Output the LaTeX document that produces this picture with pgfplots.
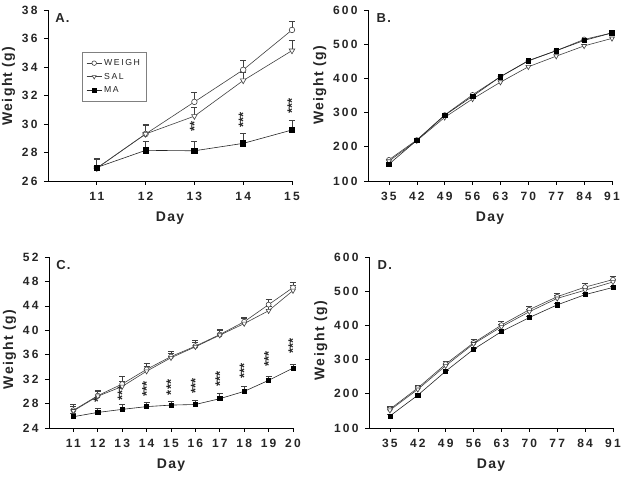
\documentclass[border=0pt]{standalone}
\usepackage{fontspec}
\setmainfont{Liberation Sans}
\usepackage{pgfplots}
\pgfplotsset{compat=1.18}
\definecolor{lc}{gray}{0.25}
\tikzset{
 stars/.style={rotate=90, font=\bfseries\fontsize{13}{13}\selectfont, inner sep=0pt, text=black!85, xshift=1.5pt},
 plab/.style={anchor=north west, font=\bfseries\fontsize{13}{13}\selectfont\addfontfeatures{LetterSpace=10}, inner sep=0pt, text=black!85},
}
\pgfplotsset{
 panel/.style={
  scale only axis, width=244pt, height=171pt,
  axis lines=left, axis line style={-, black, line width=0.6pt},
  tick style={black, line width=0.6pt},
  tick align=outside, major tick length=4pt,
  ticklabel style={font=\bfseries\fontsize{12}{12}\selectfont\addfontfeatures{LetterSpace=18}, text=black!85},
  /pgf/number format/assume math mode=true,
  xticklabel style={yshift=-4pt},
  yticklabel style={xshift=-3pt},
  xlabel={Day}, ylabel={Weight (g)},
  label style={font=\bfseries\fontsize{14}{16}\selectfont\addfontfeatures{LetterSpace=10}, text=black!85},
  xlabel style={yshift=-4pt},
  clip=false,
  error bars/y dir=plus, error bars/y explicit,
  error bars/error bar style={lc, line width=0.6pt},
  error bars/error mark options={lc, line width=0.6pt, rotate=90, mark size=3pt},
 },
 weigh/.style={lc, line width=0.6pt, mark=*, mark options={fill=white, draw=lc, solid}},
 sal/.style={lc, line width=0.6pt, mark=triangle*, mark options={fill=white, draw=lc, rotate=180, solid}},
 ma/.style={black!85, line width=0.6pt, mark=square*, mark options={fill=black, draw=black}},
}
\begin{document}
\begin{tikzpicture}
\path[use as bounding box] (0,0) rectangle (622pt,479pt);
% Panel A
\begin{axis}[panel, at={(48pt,298pt)}, anchor=south west,
  xmin=10, xmax=15, ymin=26, ymax=38,
  xtick={11,12,13,14,15}, ytick={26,28,...,38},
  ylabel style={at={(ticklabel cs:0.555)}},
  legend style={at={(0.139,0.754)}, anchor=north west, draw=gray, line width=0.6pt,
    font=\fontsize{8.7}{9.5}\selectfont\addfontfeatures{LetterSpace=18}, text=black!85,
    legend cell align=left, row sep=2pt, inner xsep=4pt, inner ysep=5pt},
  legend image code/.code={\draw[mark repeat=2,mark phase=2, mark size=2.3pt] plot coordinates {(0cm,0cm) (0.27cm,0cm) (0.54cm,0cm)};},
]
\addplot[weigh, mark size=2.8pt] table[y error index=2] {
11 26.9 0.7
12 29.3 0.7
13 31.55 0.65
14 33.8 0.65
15 36.6 0.6
};
\addplot[sal, mark size=3.2pt] table[y error index=2] {
11 26.9 0.7
12 29.3 0.6
13 30.55 0.6
14 33.05 0.6
15 35.15 0.7
};
\addplot[ma, mark size=2.6pt] table[y error index=2] {
11 26.95 0.6
12 28.15 0.65
13 28.12 0.7
14 28.64 0.7
15 29.58 0.7
};
\legend{WEIGH, SAL, MA}
\node[stars] at (axis cs:13,29.75) {**};
\node[stars] at (axis cs:14,30.15) {***};
\node[stars] at (axis cs:15,31.15) {***};
\node[plab] at (rel axis cs:0.029,0.982) {A.};
\end{axis}
% Panel B
\begin{axis}[panel, at={(368pt,298pt)}, anchor=south west,
  xmin=29.75, xmax=91, ymin=100, ymax=600,
  xtick={35,42,...,91}, ytick={100,200,...,600},
  ylabel style={at={(ticklabel cs:0.56)}},
]
\addplot[weigh, mark size=2.4pt] coordinates {(35,162) (42,220) (49,293) (56,352) (63,405) (70,451) (77,481) (84,514) (91,533)};
\addplot[sal, mark size=2.8pt] coordinates {(35,158) (42,218) (49,286) (56,340) (63,389) (70,434) (77,465) (84,495) (91,517)};
\addplot[ma, mark size=2.3pt] coordinates {(35,149) (42,219) (49,292) (56,348) (63,405) (70,452) (77,481) (84,511) (91,533)};
\node[plab] at (rel axis cs:0.035,0.982) {B.};
\end{axis}
% Panel C
\begin{axis}[panel, at={(49pt,51pt)}, anchor=south west,
  xmin=10, xmax=20, ymin=24, ymax=52,
  xtick={11,...,20}, ytick={24,28,...,52},
  ylabel style={at={(ticklabel cs:0.46)}},
]
\addplot[weigh, mark size=2.5pt] table[y error index=2] {
11 26.9 0.9
12 29.3 0.9
13 31.2 1.2
14 33.6 1.0
15 35.7 0.9
16 37.4 0.9
17 39.3 0.8
18 41.4 0.8
19 44.2 0.8
20 47.0 0.8
};
\addplot[sal, mark size=2.8pt] table[y error index=2] {
11 26.8 0.8
12 29.2 0.8
13 30.8 0.8
14 33.3 0.8
15 35.5 0.8
16 37.3 0.8
17 39.2 0.8
18 41.1 0.8
19 43.2 0.8
20 46.5 0.8
};
\addplot[ma, mark size=2.1pt] table[y error index=2] {
11 25.85 0.5
12 26.55 0.75
13 27.05 0.75
14 27.5 0.7
15 27.75 0.7
16 27.85 0.75
17 28.8 0.8
18 30.0 0.8
19 31.8 0.7
20 33.8 0.7
};
\node[stars] at (axis cs:12,28.3) {*};
\node[stars] at (axis cs:13,29.5) {***};
\node[stars] at (axis cs:14,30.2) {***};
\node[stars] at (axis cs:15,30.4) {***};
\node[stars] at (axis cs:16,30.6) {***};
\node[stars] at (axis cs:17,31.85) {***};
\node[stars] at (axis cs:18,33.1) {***};
\node[stars] at (axis cs:19,35.1) {***};
\node[stars] at (axis cs:20,37.2) {***};
\node[plab] at (rel axis cs:0.029,0.982) {C.};
\end{axis}
% Panel D
\begin{axis}[panel, at={(369pt,51pt)}, anchor=south west,
  xmin=29.75, xmax=91, ymin=100, ymax=600,
  xtick={35,42,...,91}, ytick={100,200,...,600},
  ylabel style={at={(ticklabel cs:0.51)}},
]
\addplot[weigh, mark size=2.4pt] table[y error index=2] {
35 155 8
42 217 8
49 287 9
56 349 9
63 401 10
70 446 10
77 484 10
84 512 10
91 534 10
};
\addplot[sal, mark size=2.8pt] table[y error index=2] {
35 152 8
42 213 8
49 282 8
56 346 8
63 396 8
70 440 8
77 479 8
84 503 8
91 527 8
};
\addplot[ma, mark size=2.1pt] table[y error index=2] {
35 135 4
42 196 4
49 266 4
56 330 4
63 382 4
70 423 4
77 460 4
84 490 4
91 511 4
};
\node[plab] at (rel axis cs:0.035,0.982) {D.};
\end{axis}
\end{tikzpicture}
\end{document}
